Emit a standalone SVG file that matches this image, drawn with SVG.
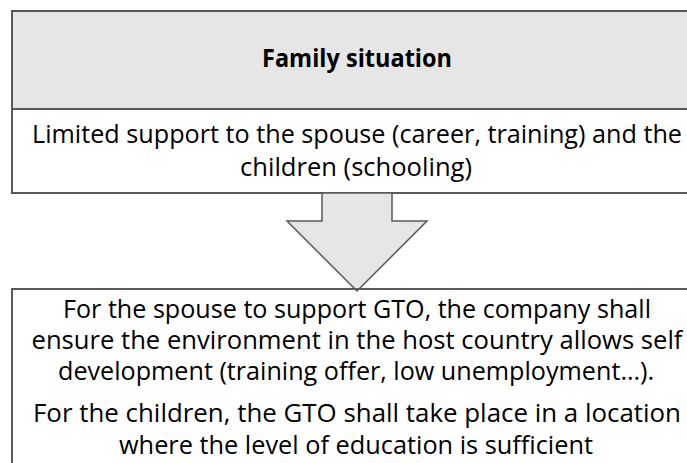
<svg xmlns="http://www.w3.org/2000/svg" width="687" height="463" viewBox="0 0 687 463">
<style>
.box{stroke:#595959;stroke-width:2}
.t{font-family:"Open Sans","Liberation Sans",sans-serif;font-size:25px;fill:#000;text-anchor:middle}
.b{font-weight:bold}
</style>
<rect width="687" height="463" fill="#fff"/>
<g id="header">
<rect class="box" x="12" y="11" width="700" height="98" fill="#e7e6e6"/>
<text class="t b" x="357" y="67" textLength="190" lengthAdjust="spacingAndGlyphs">Family situation</text>
</g>
<g id="situation">
<rect class="box" x="12" y="109" width="700" height="84" fill="#fff"/>
<text class="t" x="357" y="143" textLength="650" lengthAdjust="spacingAndGlyphs">Limited support to the spouse (career, training) and the</text>
<text class="t" x="356" y="176" textLength="232" lengthAdjust="spacingAndGlyphs">children (schooling)</text>
</g>
<g id="connectors">
<polygon points="322,193 392,193 392,221 427,221 357,291 287,221 322,221" fill="#e7e6e6" stroke="#595959" stroke-width="1.5" stroke-linejoin="miter"/>
</g>
<g id="recommendation">
<rect class="box" x="12" y="289" width="700" height="200" fill="none"/>
<text class="t" x="357" y="318" textLength="588" lengthAdjust="spacingAndGlyphs">For the spouse to support GTO, the company shall</text>
<text class="t" x="357" y="349" textLength="651" lengthAdjust="spacingAndGlyphs">ensure the environment in the host country allows self</text>
<text class="t" x="356" y="380" textLength="596" lengthAdjust="spacingAndGlyphs">development (training offer, low unemployment…).</text>
<text class="t" x="357" y="422" textLength="648" lengthAdjust="spacingAndGlyphs">For the children, the GTO shall take place in a location</text>
<text class="t" x="356" y="454" textLength="474" lengthAdjust="spacingAndGlyphs">where the level of education is sufficient</text>
</g>
</svg>
